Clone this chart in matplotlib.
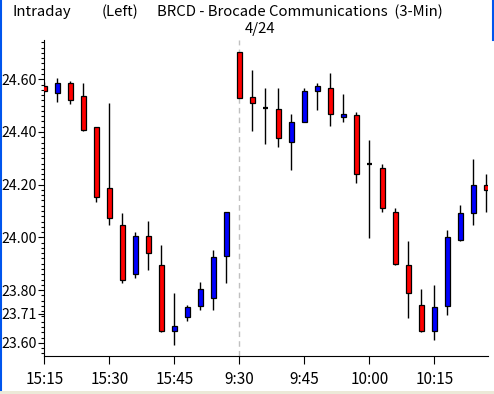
import matplotlib
matplotlib.use("Agg")
import matplotlib.pyplot as plt
from matplotlib import font_manager
from matplotlib.lines import Line2D


def pick_font(names):
    # 找一个窄字体，没有就用默认
    for n in names:
        try:
            font_manager.findfont(n, fallback_to_default=False)
            return n
        except ValueError:
            pass
    return "DejaVu Sans"


FONT = pick_font(["Liberation Sans Narrow", "DejaVu Sans Condensed", "Noto Sans CJK JP"])
plt.rcParams["font.family"] = [FONT, "DejaVu Sans"]

# 3分钟K线数据 (15:15 .. 15:57, 9:30 .. 10:21)
opens = [24.575, 24.547, 24.585, 24.537, 24.418, 24.186, 24.048, 23.861, 24.006, 23.896,
         23.646, 23.699, 23.740, 23.770, 23.931,
         24.702, 24.534, 24.492, 24.486, 24.361, 24.439, 24.557, 24.566, 24.457, 24.466,
         24.277, 24.265, 24.098, 23.896, 23.744, 23.646, 23.739, 23.990, 24.092, 24.200]
highs = [24.590, 24.604, 24.592, 24.587, 24.418, 24.509, 24.091, 24.019, 24.061, 23.971,
         23.789, 23.745, 23.829, 23.951, 24.098,
         24.702, 24.635, 24.566, 24.566, 24.468, 24.566, 24.585, 24.623, 24.544, 24.475,
         24.370, 24.278, 24.110, 23.987, 23.806, 23.819, 24.029, 24.121, 24.299, 24.239]
lows = [24.550, 24.515, 24.505, 24.405, 24.135, 24.047, 23.827, 23.844, 23.876, 23.642,
        23.592, 23.683, 23.724, 23.724, 23.827,
        24.528, 24.405, 24.356, 24.344, 24.256, 24.436, 24.484, 24.424, 24.436, 24.208,
        23.997, 24.095, 23.895, 23.694, 23.642, 23.612, 23.705, 23.986, 24.047, 24.095]
closes = [24.557, 24.585, 24.520, 24.408, 24.152, 24.072, 23.839, 24.006, 23.940, 23.646,
          23.665, 23.737, 23.806, 23.927, 24.098,
          24.528, 24.509, 24.492, 24.378, 24.437, 24.556, 24.573, 24.470, 24.468, 24.239,
          24.277, 24.112, 23.899, 23.790, 23.646, 23.737, 24.000, 24.091, 24.200, 24.181]

xtick_pos = [0, 5, 10, 15, 20, 25, 30]
xtick_labels = ["15:15", "15:30", "15:45", "9:30", "9:45", "10:00", "10:15"]
ytick_vals = [23.60, 23.71, 23.80, 24.00, 24.20, 24.40, 24.60]
session_break = 15

W, H = 494, 394
fig = plt.figure(figsize=(W / 100, H / 100), dpi=100)
fig.patch.set_facecolor("white")
ax = fig.add_axes([43.5 / W, 1 - 355.7 / H, (487.7 - 43.5) / W, (355.7 - 40) / H])

# 日期分隔线
ax.axvline(session_break, color="#c0c0c0", lw=1, ls=(0, (4, 3)), zorder=1)

bw = 0.4
for i, (o, h, l, c) in enumerate(zip(opens, highs, lows, closes)):
    ax.vlines(i, l, h, color="black", lw=1.0, zorder=2)
    if abs(c - o) < 0.002:
        ax.hlines(o, i - bw / 2, i + bw / 2, color="black", lw=1.6, zorder=3)
    else:
        col = "#0000ff" if c > o else "#ff0000"
        ax.bar(i, c - o, bottom=o, width=bw, color=col, edgecolor="black",
               linewidth=0.9, zorder=3)

ax.set_xlim(-0.06, 34.11)
ax.set_ylim(23.551, 24.749)

ax.set_xticks(xtick_pos)
ax.set_xticklabels(xtick_labels)
ax.set_yticks(ytick_vals)
ax.set_yticklabels(["%.2f" % v for v in ytick_vals])
ax.set_yticks([23.56 + 0.02 * k for k in range(60)], minor=True)

ax.tick_params(axis="x", direction="out", length=5.8, width=0.8, pad=5,
               labelsize=11, colors="black")
ax.tick_params(axis="y", which="major", direction="out", length=4.3, width=0.8,
               pad=0.5, labelsize=10.2)
ax.tick_params(axis="y", which="minor", direction="out", length=2.2, width=0.8)

for s in ["top", "right"]:
    ax.spines[s].set_visible(False)
for s in ["left", "bottom"]:
    ax.spines[s].set_linewidth(0.8)

# 标题
fig.text(12 / W, 1 - 16 / H, "Intraday", fontsize=10.7, ha="left", va="baseline")
fig.text(102 / W, 1 - 16 / H, "(Left)", fontsize=10.7, ha="left", va="baseline")
fig.text(157 / W, 1 - 16 / H, "BRCD - Brocade Communications  (3-Min)",
         fontsize=10.7, ha="left", va="baseline")
fig.text(260 / W, 1 - 33 / H, "4/24", fontsize=10.7, ha="center", va="baseline")

# 窗口边框
fig.add_artist(Line2D([1 / W, 1 / W], [0.01, 1], color="#0055ee", lw=1.5))
fig.add_artist(Line2D([493 / W, 493 / W], [1 - 40 / H, 1], color="#0055ee", lw=1.5))
fig.add_artist(plt.Rectangle((0, 0), 1, 3 / H, color="#ece9d8", lw=0))

fig.savefig("out.png", dpi=100)
